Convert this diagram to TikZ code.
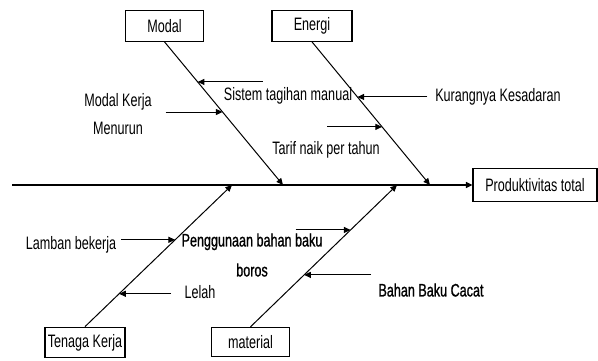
\documentclass[tikz,border=0pt]{standalone}
\usepackage{fontspec}
\setmainfont[FakeStretch=0.70]{Liberation Sans}
\newfontfamily\heavyfont[FakeStretch=0.70,FakeBold=1]{Liberation Sans}
\usetikzlibrary{arrows.meta,calc}

\tikzset{
  katbox/.style={draw,line width=0.8pt,minimum height=23pt,inner sep=0pt},
  rib/.style={line width=0.75pt,-{Triangle[length=5pt,width=4.5pt]}},
  cause/.style={line width=0.75pt,-{Triangle[length=5pt,width=4.5pt]}},
  lbl/.style={inner sep=0pt}
}

\begin{document}
\begin{tikzpicture}[x=0.75pt,y=-0.75pt,font=\fontsize{13.5}{15}\selectfont]
\useasboundingbox (0,0) rectangle (598,360);

% kategori
\node[katbox,minimum width=59pt] (modal) at (164.5,26) {Modal};
\node[katbox,minimum width=60pt] (energi) at (312,26) {Energi};
\node[katbox,minimum width=60pt,minimum height=23pt] (tenaga) at (85,342.5) {Tenaga Kerja};
\node[katbox,minimum width=59pt,minimum height=22pt] (material) at (250.5,342) {material};
\node[katbox,minimum width=93pt,minimum height=25pt] (hasil) at (535,185) {Produktivitas total};

% tulang utama
\coordinate (ekor) at (12,185);
\draw[rib,line width=1.1pt] (ekor) -- (hasil.west);

\coordinate (m2) at (283,185);
\coordinate (e2) at (430,185);
\coordinate (t2) at (232,185);
\coordinate (b2) at (397,185);
\draw[rib] (modal.south) -- (m2);
\draw[rib] (energi.south) -- (e2);
\draw[rib] (tenaga.north) -- (t2);
\draw[rib] (material.north) -- (b2);

% sebab
\coordinate (s1) at ($(modal.south)!0.28!(m2)$);
\coordinate (s2) at ($(modal.south)!0.49!(m2)$);
\coordinate (s3) at ($(energi.south)!0.385!(e2)$);
\coordinate (s4) at ($(energi.south)!0.594!(e2)$);
\coordinate (s5) at ($(tenaga.north)!0.613!(t2)$);
\coordinate (s6) at ($(tenaga.north)!0.232!(t2)$);
\coordinate (s7) at ($(material.north)!0.683!(b2)$);
\coordinate (s8) at ($(material.north)!0.366!(b2)$);

\draw[cause] ($(s1)+(65,0)$) -- (s1);
\draw[cause] ($(s2)+(-57,0)$) -- (s2);
\draw[cause] ($(s3)+(70,0)$) -- (s3);
\draw[cause] ($(s4)+(-55,0)$) -- (s4);
\draw[cause] ($(s5)+(-54,0)$) -- (s5);
\draw[cause] ($(s6)+(52,0)$) -- (s6);
\draw[cause] ($(s7)+(-55,0)$) -- (s7);
\draw[cause] ($(s8)+(67,0)$) -- (s8);

\node[lbl] (sistem) at (288,96) {Sistem tagihan manual};
\node[lbl,align=center,font=\fontsize{13.5}{21}\selectfont] (kerja) at (118,114) {Modal Kerja\\Menurun};
\node[lbl] (sadar) at (498,97) {Kurangnya Kesadaran};
\node[lbl] (tarif) at (326,150) {Tarif naik per tahun};
\node[lbl] (lamban) at (71,245) {Lamban bekerja};
\node[lbl] (lelah) at (200,292) {Lelah};
\node[lbl,align=center,font=\heavyfont\fontsize{13.5}{22.5}\selectfont] (boros) at (252,255) {Penggunaan bahan baku\\boros};
\node[lbl,font=\heavyfont\fontsize{13.5}{15}\selectfont] (cacat) at (431,290) {Bahan Baku Cacat};
\end{tikzpicture}
\end{document}
